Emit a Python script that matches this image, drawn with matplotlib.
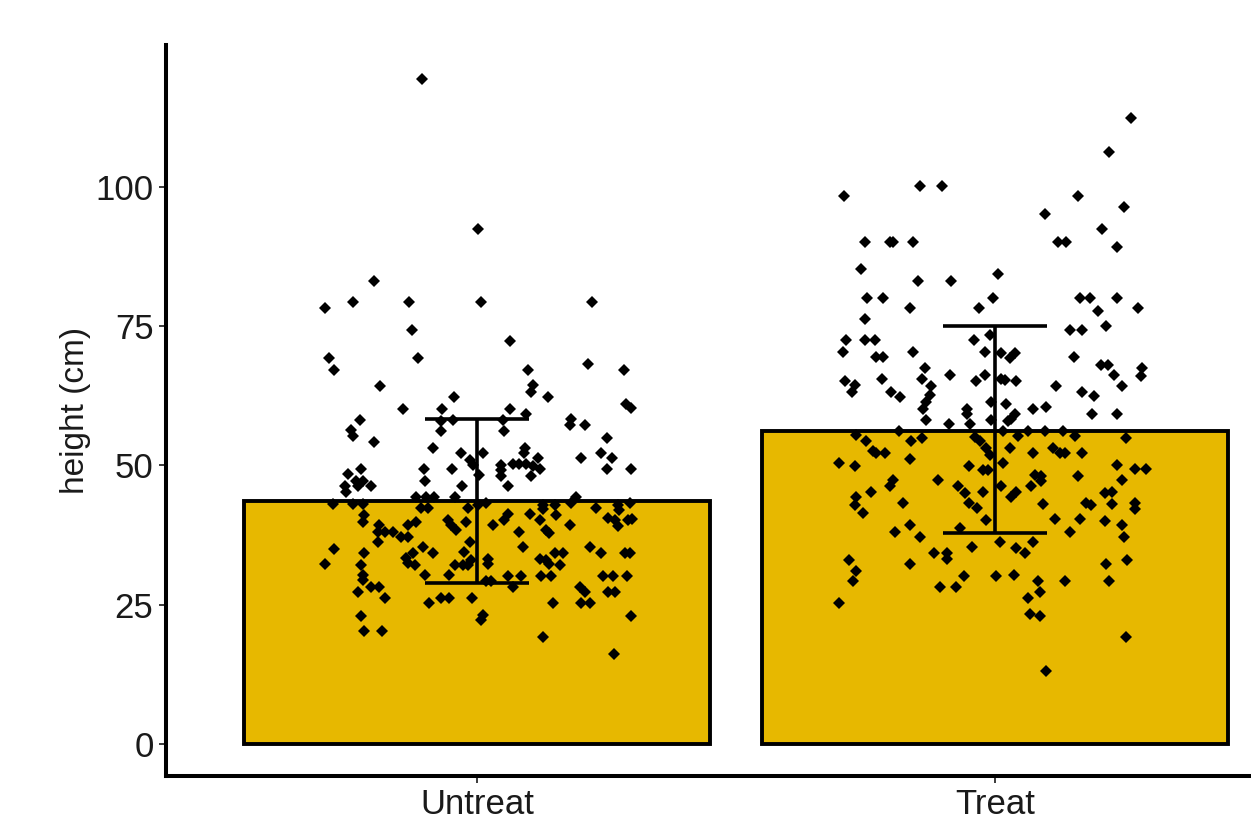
import matplotlib
matplotlib.use("Agg")
import matplotlib.pyplot as plt
import numpy as np

plt.rcParams['font.family'] = ['Liberation Sans', 'DejaVu Sans']

# bar summary (mean and mean +/- sd)
categories = ["Untreat", "Treat"]
bar_means = [43.6, 56.2]
err_low = [28.9, 37.9]
err_high = [58.3, 75.0]

# jittered raw points: horizontal offset from category centre, height (cm)
untreat_dx = [
    -0.106, 0.002, -0.199, -0.294, -0.239, -0.132, 0.008, 0.222, -0.125, -0.286,
    -0.275, -0.113, -0.187, -0.044, -0.142, -0.068, -0.226, -0.243, -0.239, -0.199,
    -0.069, -0.046, -0.070, -0.084, -0.031, -0.014, -0.008, -0.223, -0.249, -0.103,
    -0.048, 0.063, 0.214, 0.284, 0.099, 0.108, 0.105, 0.138, 0.288, 0.298,
    0.063, 0.095, 0.050, 0.053, 0.182, 0.179, 0.209, 0.252, 0.092, 0.012,
    0.090, 0.239, 0.261, 0.201, 0.118, 0.069, 0.082, 0.095, 0.108, 0.121,
    0.047, 0.047, 0.252, 0.298, -0.233, -0.220, -0.204, -0.255, -0.252, -0.230,
    -0.101, -0.029, -0.117, -0.098, -0.082, -0.043, -0.278, -0.239, -0.220, -0.108,
    -0.095, -0.017, -0.217, -0.220, -0.117, -0.133, -0.056, -0.050, -0.040, -0.021,
    -0.188, -0.191, -0.178, -0.162, -0.146, -0.133, -0.191, -0.014, -0.275, -0.217,
    -0.136, -0.124, -0.133, -0.120, -0.104, -0.085, -0.024, -0.011, -0.043, -0.027,
    -0.017, -0.294, -0.223, -0.220, -0.220, -0.101, -0.053, -0.204, -0.188, -0.230,
    -0.177, -0.093, -0.070, -0.053, -0.010, -0.223, -0.217, -0.183, 0.047, 0.105,
    0.060, 0.005, 0.018, 0.002, 0.192, 0.127, 0.150, 0.182, 0.127, 0.230,
    0.272, 0.275, 0.295, 0.060, 0.053, 0.102, 0.153, 0.121, 0.031, 0.179,
    0.253, 0.266, 0.272, 0.292, 0.300, 0.082, 0.134, 0.140, 0.089, 0.218,
    0.239, 0.285, 0.295, 0.150, 0.166, 0.121, 0.134, 0.140, 0.161, 0.021,
    0.021, 0.060, 0.086, 0.124, 0.143, 0.243, 0.263, 0.290, 0.018, 0.028,
    0.069, 0.198, 0.208, 0.253, 0.266, 0.147, 0.201, 0.218, 0.012, 0.008,
    0.298, 0.127, 0.264,
]
untreat_y = [
    119.4, 92.4, 83.2, 78.2, 79.3, 79.3, 79.3, 79.3, 74.3, 69.2,
    67.2, 69.2, 64.3, 62.2, 60.1, 60.1, 58.2, 56.4, 55.3, 54.2,
    57.9, 58.2, 56.2, 53.1, 52.3, 51.0, 50.1, 49.4, 48.4, 49.4,
    49.4, 72.4, 68.2, 67.2, 67.2, 64.5, 63.1, 62.2, 61.1, 60.3,
    60.1, 59.3, 58.2, 56.2, 58.3, 57.3, 57.3, 55.0, 53.2, 52.3,
    52.2, 52.3, 51.3, 51.3, 51.3, 50.3, 50.3, 50.3, 49.8, 49.4,
    50.1, 49.2, 49.4, 49.4, 47.1, 47.1, 46.2, 46.2, 45.2, 46.2,
    47.1, 46.2, 44.4, 44.4, 44.4, 44.4, 43.1, 43.1, 43.1, 42.3,
    42.3, 42.3, 41.1, 39.9, 39.9, 39.3, 40.2, 39.3, 38.4, 39.9,
    39.3, 38.1, 38.1, 38.1, 37.2, 37.2, 36.3, 36.3, 35.0, 34.2,
    33.3, 34.2, 32.4, 32.1, 35.3, 34.2, 34.5, 33.0, 32.1, 32.1,
    32.1, 32.2, 32.1, 30.3, 29.4, 30.3, 30.3, 28.2, 28.1, 27.2,
    26.1, 25.2, 26.1, 26.1, 26.1, 23.0, 20.2, 20.2, 48.0, 48.1,
    46.2, 48.3, 43.2, 42.9, 44.4, 42.9, 42.9, 43.2, 42.1, 42.3,
    42.9, 42.0, 43.2, 41.3, 40.1, 41.3, 41.1, 40.2, 39.2, 39.2,
    40.5, 40.2, 39.1, 40.1, 40.3, 38.1, 38.4, 37.8, 35.3, 35.3,
    34.2, 34.2, 34.2, 34.2, 34.2, 33.2, 33.0, 32.2, 32.1, 33.2,
    32.2, 30.2, 30.2, 30.2, 30.2, 30.2, 30.2, 30.2, 29.3, 29.3,
    28.2, 28.2, 27.2, 27.2, 27.2, 25.2, 25.2, 25.2, 23.2, 22.3,
    23.0, 19.1, 16.1,
]
treat_dx = [
    -0.292, -0.145, -0.102, -0.252, -0.203, -0.197, -0.158, -0.258, -0.149, -0.086,
    0.006, -0.248, -0.216, -0.005, -0.164, -0.031, 0.262, 0.219, 0.160, 0.096,
    0.248, 0.207, 0.122, 0.136, 0.236, 0.164, 0.183, 0.236, 0.275, 0.199,
    -0.252, -0.287, -0.252, -0.232, -0.293, -0.229, -0.216, -0.158, -0.041, -0.020,
    -0.010, -0.135, -0.290, -0.271, -0.277, -0.219, -0.142, -0.123, -0.087, -0.036,
    -0.020, -0.200, -0.184, -0.126, -0.133, -0.139, -0.055, -0.055, -0.007, -0.007,
    -0.134, -0.089, -0.049, -0.185, -0.268, -0.250, -0.162, -0.142, -0.236, -0.229,
    -0.213, -0.039, -0.030, -0.017, -0.010, -0.301, -0.271, -0.164, -0.051, -0.023,
    -0.014, -0.197, -0.203, -0.110, -0.239, -0.071, -0.058, -0.023, -0.268, -0.271,
    -0.178, -0.050, -0.035, -0.255, 0.215, 0.144, 0.168, 0.012, 0.028, 0.038,
    0.153, 0.205, 0.218, 0.284, 0.281, 0.229, 0.012, 0.019, 0.041, 0.118,
    0.245, 0.168, 0.191, 0.022, 0.073, 0.099, 0.038, 0.031, 0.025, 0.187,
    0.236, 0.044, 0.096, 0.131, 0.154, 0.064, 0.015, 0.252, 0.028, 0.073,
    0.112, 0.125, 0.135, 0.168, 0.015, 0.236, 0.270, 0.292, 0.077, 0.089,
    0.089, 0.160, 0.245, 0.012, 0.070, 0.041, 0.031, 0.212, 0.225, 0.093,
    0.176, 0.186, 0.226, 0.270, 0.270, -0.164, -0.194, -0.145, -0.017, -0.068,
    0.009, -0.044, -0.118, -0.093, -0.093, -0.281, -0.268, -0.274, -0.164, -0.060,
    0.001, -0.107, -0.076, -0.301, 0.115, 0.164, 0.212, 0.245, 0.248, 0.144,
    0.041, 0.057, 0.073, 0.037, 0.215, 0.255, 0.083, 0.135, 0.219, 0.086,
    0.064, 0.067, 0.086, 0.252, 0.099,
]
treat_y = [
    98.3, 100.2, 100.2, 90.1, 90.1, 90.1, 90.1, 85.2, 83.2, 83.2,
    84.4, 80.1, 80.1, 80.1, 78.3, 78.3, 112.4, 106.3, 98.3, 95.2,
    96.4, 92.4, 90.1, 90.1, 89.3, 80.1, 80.1, 80.1, 78.3, 77.7,
    76.3, 72.5, 72.5, 72.5, 70.4, 69.4, 69.4, 70.4, 72.5, 70.4,
    73.4, 67.4, 65.1, 64.5, 63.1, 65.5, 65.5, 64.3, 66.2, 65.1,
    66.2, 63.1, 62.2, 62.7, 61.4, 60.2, 60.2, 59.3, 61.4, 58.2,
    58.2, 57.5, 57.5, 56.2, 55.5, 54.3, 54.3, 55.0, 52.5, 52.2,
    52.2, 55.1, 54.3, 53.1, 51.9, 50.4, 49.9, 51.2, 49.9, 49.2,
    49.2, 47.4, 46.2, 47.4, 45.3, 46.2, 45.0, 45.3, 44.4, 42.9,
    43.2, 43.2, 42.4, 41.4, 75.1, 74.3, 74.3, 70.1, 69.2, 70.1,
    69.4, 68.1, 68.1, 67.4, 66.1, 66.2, 65.5, 65.4, 65.1, 64.3,
    64.3, 63.1, 62.4, 61.1, 60.1, 60.4, 59.3, 58.4, 57.9, 59.3,
    59.3, 55.2, 56.2, 56.2, 55.2, 56.2, 56.2, 55.0, 53.1, 52.3,
    53.1, 52.3, 52.2, 52.3, 50.4, 50.1, 49.3, 49.3, 48.2, 48.0,
    47.1, 48.1, 47.3, 46.2, 46.2, 45.3, 44.3, 45.1, 45.3, 43.1,
    43.3, 42.9, 43.1, 43.2, 42.2, 39.3, 38.1, 37.2, 40.2, 38.7,
    36.3, 35.3, 34.2, 34.2, 33.2, 33.0, 31.1, 29.2, 32.3, 30.2,
    30.2, 28.1, 28.1, 25.2, 40.3, 40.3, 40.0, 39.3, 37.2, 38.1,
    35.1, 34.2, 36.3, 30.3, 32.2, 33.0, 29.3, 29.3, 29.3, 27.2,
    26.1, 23.3, 23.0, 19.1, 13.0,
]

W, H = 1251, 816
fig = plt.figure(figsize=(W / 100, H / 100), dpi=100)
# axis area extends past the right edge, as in the cropped original
ax = fig.add_axes([166 / W, 40 / H, 1140 / W, 731 / H])

xpos = np.arange(1, len(categories) + 1)
ax.bar(xpos, bar_means, width=0.9, color="#E7B800", edgecolor="black",
       linewidth=2.8, zorder=2)

ax.vlines(xpos, err_low, err_high, color="black", linewidth=2.6, zorder=3)
ax.hlines(err_low, xpos - 0.1, xpos + 0.1, color="black", linewidth=2.6, zorder=3)
ax.hlines(err_high, xpos - 0.1, xpos + 0.1, color="black", linewidth=2.6, zorder=3)

for centre, dx, yy in [(1, untreat_dx, untreat_y), (2, treat_dx, treat_y)]:
    ax.plot(centre + np.array(dx), yy, linestyle="none", marker="D",
            markersize=6, color="black", markeredgewidth=0, zorder=4)

ax.set_xlim(0.4, 2.6)
ax.set_ylim(-5.8, 125.5)
ax.set_xticks(xpos)
ax.set_xticklabels(categories)
ax.set_yticks([0, 25, 50, 75, 100])
ax.set_ylabel("height (cm)", fontsize=24, color="#1a1a1a")
ax.yaxis.set_label_coords(-0.066, 0.5)

for side in ["top", "right"]:
    ax.spines[side].set_visible(False)
for side in ["left", "bottom"]:
    ax.spines[side].set_linewidth(2.9)
    ax.spines[side].set_color("black")

ax.tick_params(axis="both", which="major", length=5, width=1.2,
               colors="#1a1a1a", labelsize=25, pad=4)

fig.savefig("out.png", dpi=100)
